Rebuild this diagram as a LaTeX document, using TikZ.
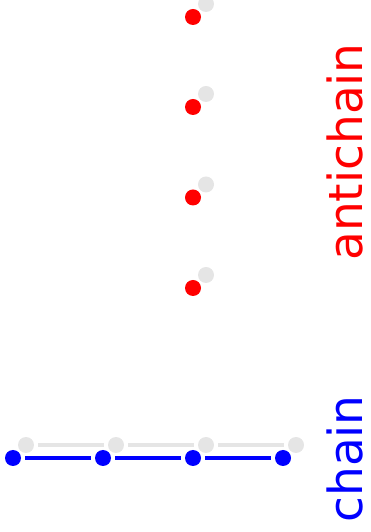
\documentclass[tikz,border=0pt]{standalone}
\usepackage{fontspec}
\newfontfamily\lblfont{DejaVu Sans}
\definecolor{shadowgray}{gray}{0.9}
\tikzset{
  dot/.style={circle, inner sep=0pt, minimum size=16pt, outer sep=4pt},
  reddot/.style={dot, fill=red},
  bluedot/.style={dot, fill=blue},
  graydot/.style={dot, fill=shadowgray},
  blueline/.style={draw=blue, line width=4pt},
  grayline/.style={draw=shadowgray, line width=3.5pt},
  lbl/.style={rotate=90, anchor=base, font=\lblfont\fontsize{47}{50}\selectfont, inner sep=0pt}
}
\begin{document}
\begin{tikzpicture}[x=1pt, y=1pt]
\useasboundingbox (0,0) rectangle (371,532);
% shadow chain
\node[graydot] (g1) at (26,87) {};
\node[graydot] (g2) at (116,87) {};
\node[graydot] (g3) at (206,87) {};
\node[graydot] (g4) at (296,87) {};
\draw[grayline] (g1) -- (g2);
\draw[grayline] (g2) -- (g3);
\draw[grayline] (g3) -- (g4);
% chain
\node[bluedot] (b1) at (13,74) {};
\node[bluedot] (b2) at (103,74) {};
\node[bluedot] (b3) at (193,74) {};
\node[bluedot] (b4) at (283,74) {};
\draw[blueline] (b1) -- (b2);
\draw[blueline] (b2) -- (b3);
\draw[blueline] (b3) -- (b4);
% antichain shadows
\node[graydot] (s1) at (206,528) {};
\node[graydot] (s2) at (206,438) {};
\node[graydot] (s3) at (206,347.5) {};
\node[graydot] (s4) at (206,257) {};
% antichain
\node[reddot] (r1) at (193,515) {};
\node[reddot] (r2) at (193,425) {};
\node[reddot] (r3) at (193,334.5) {};
\node[reddot] (r4) at (193,244) {};
% labels
\node[lbl, text=red] (la) at (362,380) {antichain};
\node[lbl, text=blue] (lc) at (362,73) {chain};
\end{tikzpicture}
\end{document}
